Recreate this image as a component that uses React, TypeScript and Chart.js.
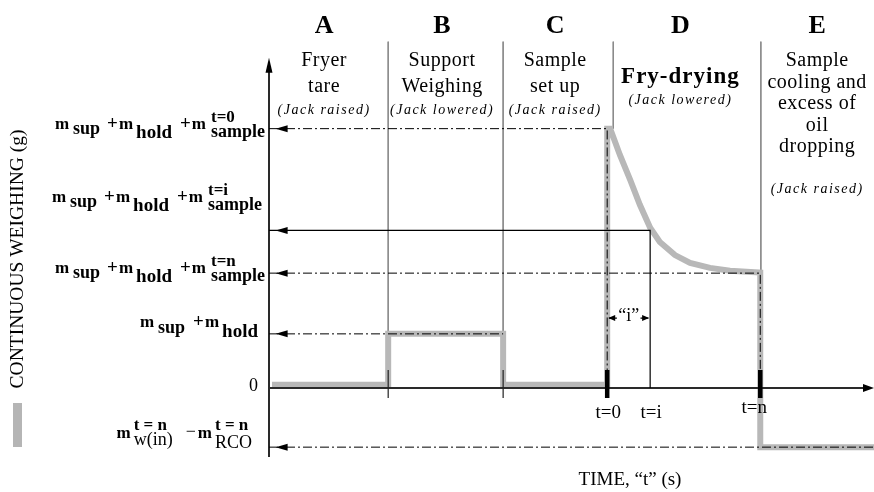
import { useEffect, useRef } from 'react';
import { Chart, registerables } from 'chart.js';
Chart.register(...registerables);

// ---- data ----
const PHASES = ['A', 'B', 'C', 'D', 'E'];
const PHASE_TEXT = [
  ['Fryer', 'tare'],
  ['Support', 'Weighing'],
  ['Sample', 'set up'],
  ['Fry-drying'],
  ['Sample', 'cooling and', 'excess of', 'oil', 'dropping'],
];
const JACK_STATE = ['(Jack raised)', '(Jack lowered)', '(Jack raised)', '(Jack lowered)', '(Jack raised)'];
const PHASE_CENTER = [9.1, 28.6, 47.3, 68.0, 90.6];
const PHASE_BOUNDS = [19.7, 38.7, 56.9, 81.3];
const T_ZERO = 55.9;
const T_I = 63.0;
const T_N = 81.2;
const TIME_TICKS = ['t=0', 't=i', 't=n'];
const LEVEL_T0 = 79;
const LEVEL_TI = 48;
const LEVEL_TN = 35;
const LEVEL_HOLD = 16.5;
const LEVEL_NEG = -18;
const MASS_TIME = [0.5, 19.7, 19.7, 38.7, 38.7, 55.9, 55.9, 56.4, 58.0, 59.7, 61.3, 63.0, 64.6, 67.1, 69.6, 72.9, 76.2, 81.2, 81.2, 100];
const MASS_VALUE = [1, 1, 16.5, 16.5, 1, 1, 79, 79, 71, 63.4, 55.8, 48.8, 44.5, 40.5, 38.1, 36.6, 35.7, 35.2, -18, -18];
const X_MAX = 100;
const Y_MIN = -21;
const Y_MAX = 106;
const Y_TITLE = 'CONTINUOUS WEIGHING (g)';
const X_TITLE = 'TIME, \u201Ct\u201D (s)';

const SERIF = '"Liberation Serif", "Times New Roman", serif';
const font = (size: number, bold = false, italic = false) =>
  `${italic ? 'italic ' : ''}${bold ? 'bold ' : ''}${size}px ${SERIF}`;

type Tok = { t?: string; s?: number; b?: boolean; dy?: number; g?: number; stack?: Tok[] };

const massRow = (sup: string): Tok[] => [
  { t: 'm', s: 17, b: true, dy: 0 }, { g: 4 },
  { t: 'sup', s: 18, b: true, dy: 5 }, { g: 7 },
  { t: '+', s: 19, b: true, dy: 0 }, { g: 1 }, { t: 'm', s: 17, b: true, dy: 0 }, { g: 3 },
  { t: 'hold', s: 19, b: true, dy: 9 }, { g: 8 },
  { t: '+', s: 19, b: true, dy: 0 }, { g: 1 }, { t: 'm', s: 17, b: true, dy: 0 }, { g: 5 },
  { stack: [{ t: sup, s: 17, b: true, dy: -7 }, { t: 'sample', s: 18, b: true, dy: 8 }] },
];
const holdRow: Tok[] = [
  { t: 'm', s: 17, b: true, dy: 0 }, { g: 4 },
  { t: 'sup', s: 18, b: true, dy: 6 }, { g: 8 },
  { t: '+', s: 19, b: true, dy: 0 }, { g: 1 }, { t: 'm', s: 17, b: true, dy: 0 }, { g: 3 },
  { t: 'hold', s: 19, b: true, dy: 10 },
];
const negRow: Tok[] = [
  { t: 'm', s: 17, b: true, dy: 0 }, { g: 3 },
  { stack: [{ t: 't = n', s: 17, b: true, dy: -8 }, { t: 'w(in)', s: 18, b: false, dy: 7 }] }, { g: 13 },
  { t: '\u2212', s: 18, b: false, dy: -1 }, { g: 2 }, { t: 'm', s: 17, b: true, dy: 0 }, { g: 3 },
  { stack: [{ t: 't = n', s: 17, b: true, dy: -8 }, { t: 'RCO', s: 18, b: false, dy: 10 }] },
];

function tokWidth(ctx: CanvasRenderingContext2D, k: Tok): number {
  if (k.g !== undefined) return k.g;
  if (k.stack) return Math.max(...k.stack.map((s) => tokWidth(ctx, s)));
  ctx.font = font(k.s || 16, k.b);
  return ctx.measureText(k.t || '').width;
}
function drawRow(ctx: CanvasRenderingContext2D, toks: Tok[], right: number, base: number) {
  const total = toks.reduce((a, k) => a + tokWidth(ctx, k), 0);
  let x = right - total;
  ctx.textAlign = 'left';
  ctx.textBaseline = 'alphabetic';
  for (const k of toks) {
    const w = tokWidth(ctx, k);
    const parts = k.stack ? k.stack : k.t !== undefined ? [k] : [];
    for (const p of parts) {
      ctx.font = font(p.s || 16, p.b);
      ctx.fillText(p.t || '', x, base + (p.dy || 0));
    }
    x += w;
  }
}

const pts = (xs: number[], ys: number[]) => xs.map((x, i) => ({ x, y: ys[i] }));

const line = (data: any[], color: string, width: number, dash: number[] = [], order = 0) => ({
  data,
  borderColor: color,
  borderWidth: width,
  borderDash: dash,
  pointRadius: 0,
  fill: false,
  tension: 0,
  clip: false as any,
  order,
  spanGaps: false,
  borderCapStyle: 'butt',
  borderJoinStyle: 'miter',
});

const DASHDOT = [9, 3, 2, 3];

const overlay = {
  id: 'overlay',
  afterDatasetsDraw(chart: any) {
    const { ctx } = chart;
    const xs = chart.scales.x;
    const ys = chart.scales.y;
    const px = (v: number) => xs.getPixelForValue(v);
    const py = (v: number) => ys.getPixelForValue(v);
    ctx.save();
    ctx.fillStyle = '#000';
    const tri = (tx: number, ty: number, dir: string, len: number, half: number) => {
      ctx.beginPath();
      ctx.moveTo(tx, ty);
      if (dir === 'left') { ctx.lineTo(tx + len, ty - half); ctx.lineTo(tx + len, ty + half); }
      if (dir === 'right') { ctx.lineTo(tx - len, ty - half); ctx.lineTo(tx - len, ty + half); }
      if (dir === 'up') { ctx.lineTo(tx - half, ty + len); ctx.lineTo(tx + half, ty + len); }
      ctx.closePath();
      ctx.fill();
    };
    // level arrowheads
    [LEVEL_T0, LEVEL_TI, LEVEL_TN, LEVEL_HOLD, LEVEL_NEG].forEach((lv) => tri(px(1.1), py(lv), 'left', 12, 3.5));
    // axis arrows
    tri(px(X_MAX), py(0), 'right', 11, 4);
    tri(px(0), py(100.6), 'up', 15, 3.5);
    // "i" dimension
    const dimY = py(21.3);
    tri(px(T_ZERO) + 1, dimY, 'left', 7, 3);
    tri(px(T_I) - 1, dimY, 'right', 7, 3);
    ctx.font = font(18);
    ctx.textAlign = 'center';
    ctx.textBaseline = 'alphabetic';
    ctx.fillText('\u201Ci\u201D', px((T_ZERO + T_I) / 2), dimY + 3);

    // time ticks labels
    ctx.font = font(19);
    ctx.textBaseline = 'middle';
    [T_ZERO, T_I, T_N].forEach((t, i) => {
      ctx.fillText(TIME_TICKS[i], px(t) + (i === 2 ? -6 : 1), py(0) + (i === 2 ? 20 : 25));
    });

    // phase headers
    ctx.textBaseline = 'alphabetic';
    PHASES.forEach((p, i) => {
      const cx = px(PHASE_CENTER[i]);
      ctx.font = font(26, true);
      (ctx as any).letterSpacing = '0px';
      ctx.fillText(p, cx, 33);
      const lines = PHASE_TEXT[i];
      if (i === 3) {
        ctx.font = font(23, true);
        (ctx as any).letterSpacing = '1px';
        ctx.fillText(lines[0], cx, 83);
        ctx.font = font(14, false, true);
        (ctx as any).letterSpacing = '1.5px';
        ctx.fillText(JACK_STATE[i], cx, 104);
      } else if (i === 4) {
        ctx.font = font(20);
        (ctx as any).letterSpacing = '0.5px';
        lines.forEach((l, j) => ctx.fillText(l, cx, 66 + j * 21.5));
        ctx.font = font(14, false, true);
        (ctx as any).letterSpacing = '1.5px';
        ctx.fillText(JACK_STATE[i], cx, 193);
      } else {
        ctx.font = font(20);
        (ctx as any).letterSpacing = '0.5px';
        lines.forEach((l, j) => ctx.fillText(l, cx, 66 + j * 25.5));
        ctx.font = font(14, false, true);
        (ctx as any).letterSpacing = '1.5px';
        ctx.fillText(JACK_STATE[i], cx, 114);
      }
    });
    (ctx as any).letterSpacing = '0px';

    // left labels
    drawRow(ctx, massRow('t=0'), 265, py(LEVEL_T0) + 0.5);
    drawRow(ctx, massRow('t=i'), 262, py(LEVEL_TI) - 28);
    drawRow(ctx, massRow('t=n'), 265, py(LEVEL_TN));
    drawRow(ctx, holdRow, 258, py(LEVEL_HOLD) - 7);
    drawRow(ctx, negRow, 252, py(LEVEL_NEG) - 9);
    ctx.font = font(18);
    ctx.textAlign = 'right';
    ctx.textBaseline = 'alphabetic';
    ctx.fillText('0', 258, py(0) + 3);

    // axis titles
    ctx.save();
    ctx.translate(18, 259);
    ctx.rotate(-Math.PI / 2);
    ctx.font = font(19.5);
    ctx.textAlign = 'center';
    ctx.textBaseline = 'middle';
    ctx.fillText(Y_TITLE, 0, 0);
    ctx.restore();
    ctx.fillStyle = '#b5b5b5';
    ctx.fillRect(13, 403, 9, 44);
    ctx.fillStyle = '#000';
    ctx.font = font(19);
    ctx.textAlign = 'center';
    ctx.textBaseline = 'middle';
    ctx.fillText(X_TITLE, 630, 480);
    ctx.restore();
  },
};

export default function App() {
  const ref = useRef<HTMLCanvasElement>(null);
  useEffect(() => {
    if (!ref.current) return;
    const sepData: any[] = [];
    PHASE_BOUNDS.forEach((b, i) => {
      sepData.push({ x: b, y: 105.5 }, { x: b, y: i === 2 ? LEVEL_T0 : 0 }, { x: b, y: null });
    });
    const thinTicks: any[] = [];
    [PHASE_BOUNDS[0], PHASE_BOUNDS[1]].forEach((b) => thinTicks.push({ x: b, y: 5.5 }, { x: b, y: -3 }, { x: b, y: null }));
    const thickTicks: any[] = [];
    [T_ZERO, T_N].forEach((b) => thickTicks.push({ x: b, y: 5.5 }, { x: b, y: -3 }, { x: b, y: null }));
    const dimLine = [
      { x: T_ZERO + 0.3, y: 21.3 }, { x: T_ZERO + 1.6, y: 21.3 }, { x: T_ZERO, y: null },
      { x: T_I - 1.6, y: 21.3 }, { x: T_I - 0.3, y: 21.3 },
    ];
    const chart = new Chart(ref.current, {
      type: 'line',
      data: {
        datasets: [
          line(thickTicks, '#000', 4.5, [], 0),
          line(thinTicks, '#222', 1.2, [], 0),
          line([{ x: 0, y: LEVEL_T0 }, { x: T_ZERO, y: LEVEL_T0 }, { x: T_ZERO, y: 0 }], '#000', 1, DASHDOT, 1),
          line([{ x: 0, y: LEVEL_TN }, { x: T_N, y: LEVEL_TN }, { x: T_N, y: 0 }], '#000', 1, DASHDOT, 1),
          line([{ x: 0, y: LEVEL_HOLD }, { x: PHASE_BOUNDS[1], y: LEVEL_HOLD }], '#000', 1, DASHDOT, 1),
          line([{ x: 0, y: LEVEL_NEG }, { x: X_MAX, y: LEVEL_NEG }], '#000', 1, DASHDOT, 1),
          line([{ x: 0, y: LEVEL_TI }, { x: T_I, y: LEVEL_TI }, { x: T_I, y: 0 }], '#000', 1.2, [], 1),
          line(dimLine, '#000', 1.2, [], 1),
          line([{ x: 0, y: 0 }, { x: X_MAX - 1.5, y: 0 }], '#2a2a2a', 2, [], 2),
          line([{ x: 0, y: Y_MIN }, { x: 0, y: 97 }], '#2a2a2a', 2, [], 2),
          line(pts(MASS_TIME, MASS_VALUE), '#b8b8b8', 6, [], 5),
          line(sepData, '#8a8a8a', 1, [], 6),
        ] as any,
      },
      options: {
        animation: false,
        responsive: false,
        maintainAspectRatio: false,
        parsing: true as any,
        layout: { padding: { left: 269, right: 0, top: 40, bottom: 35 } },
        plugins: { legend: { display: false }, tooltip: { enabled: false }, title: { display: false } },
        scales: {
          x: { type: 'linear', min: 0, max: X_MAX, display: false },
          y: { type: 'linear', min: Y_MIN, max: Y_MAX, display: false },
        },
      },
      plugins: [overlay],
    });
    return () => chart.destroy();
  }, []);
  return (
    <div style={{ position: 'fixed', left: 0, top: 0, width: 874, height: 492, background: '#fff' }}>
      <canvas ref={ref} width={874} height={492} style={{ width: 874, height: 492, display: 'block' }} />
    </div>
  );
}
